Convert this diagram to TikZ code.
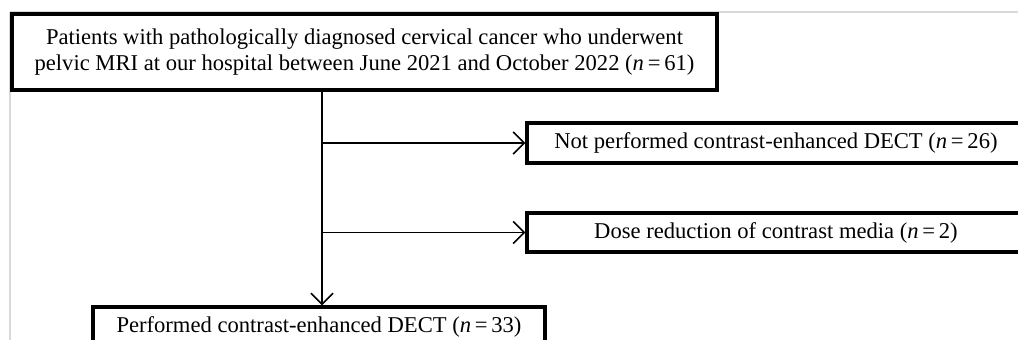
\documentclass[tikz,border=0pt]{standalone}
\usepackage{fontspec}
\setmainfont{Liberation Serif}
\usetikzlibrary{arrows.meta}
\begin{document}
\begin{tikzpicture}[x=1pt,y=-1pt,
  box/.style={draw=black,line width=3.4pt,rectangle,inner sep=0pt,align=center,
    font=\fontsize{22.6}{26}\selectfont},
  conn/.style={draw=black,line width=1.5pt,-{Straight Barb[length=11pt,width=22pt,line width=1.5pt]}},
  frame/.style={draw=black!15,line width=2pt}]
\useasboundingbox (0,0) rectangle (1018,340);
\clip (0,0) rectangle (1018,340);
\draw[frame] (10,12) -- (1018,12);
\draw[frame] (10,12) -- (10,340);
\node[box,minimum width=705pt,minimum height=76pt] (top) at (364.5,52)
  {Patients with pathologically diagnosed cervical cancer who underwent\\
   pelvic MRI at our hospital between June 2021 and October 2022 (\textit{n}\,=\,61)};
\node[box,minimum width=498pt,minimum height=40pt] (b1) at (776,143)
  {Not performed contrast-enhanced DECT (\textit{n}\,=\,26)};
\node[box,minimum width=498pt,minimum height=39pt] (b2) at (776,232.5)
  {Dose reduction of contrast media (\textit{n}\,=\,2)};
\node[box,minimum width=452pt,minimum height=40pt] (bot) at (319,327)
  {Performed contrast-enhanced DECT (\textit{n}\,=\,33)};
\coordinate (v) at (322,0);
\draw[conn] (top.south -| v) -- (bot.north -| v);
\draw[conn] (v |- b1.west) -- (b1.west);
\draw[conn] (v |- b2.west) -- (b2.west);
\end{tikzpicture}
\end{document}
